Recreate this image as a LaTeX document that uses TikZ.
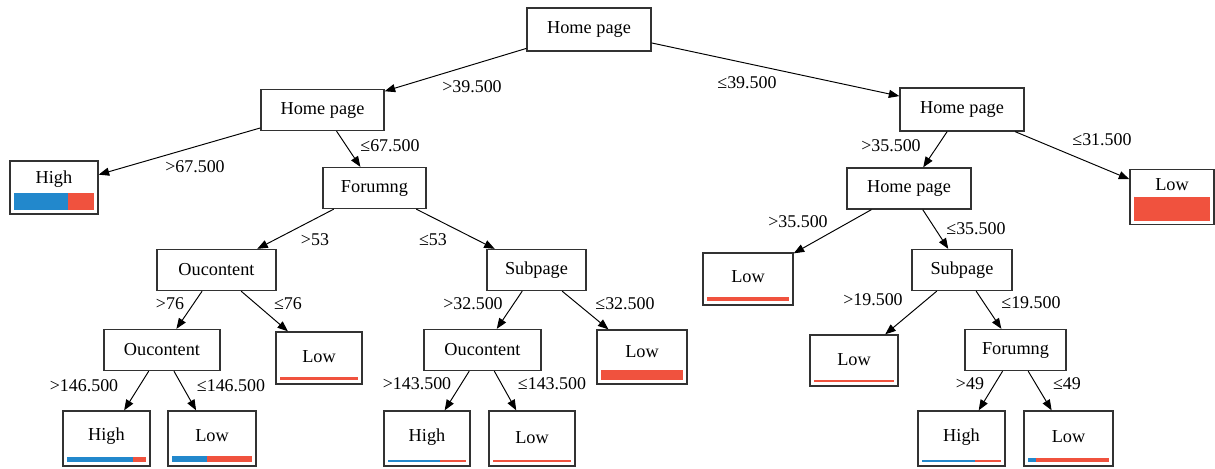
\documentclass[tikz,border=0pt]{standalone}
\usepackage{fontspec}
\setmainfont{Liberation Serif}
\usepackage{tikz}
\usetikzlibrary{arrows.meta}
\usetikzlibrary{calc,positioning}

\definecolor{barblue}{RGB}{34,136,204}
\definecolor{barred}{RGB}{240,82,62}
\definecolor{boxgray}{RGB}{50,50,50}

\begin{document}
\begin{tikzpicture}[x=0.02cm, y=-0.02cm,
  dnode/.style = {draw=boxgray, line width=0.75pt, rectangle, inner sep=0pt, minimum height=0.82cm, font=\fontsize{10.4}{12}\selectfont},
  leaf/.style = {draw=boxgray, line width=0.75pt, rectangle, inner sep=0pt, font=\fontsize{10.4}{12}\selectfont},
  lbl/.style = {inner sep=1pt, font=\fontsize{10.2}{12}\selectfont},
  edge/.style = {-{Triangle[length=6pt,width=4.6pt]}, line width=0.55pt, black}]
  \useasboundingbox (0,0) rectangle (1215,468);

  \node [dnode, minimum width=2.48cm, minimum height=0.86cm] (rootn) at (589,29.5) {Home page};
  \node [dnode, minimum width=2.46cm] (homel) at (322.5,110) {Home page};
  \node [dnode, minimum width=2.48cm, minimum height=0.86cm] (homer) at (962,109.5) {Home page};
  \node [dnode, minimum width=2.06cm] (foruml) at (374.5,188) {Forumng};
  \node [dnode, minimum width=2.48cm] (homerr) at (909,188.5) {Home page};
  \node [dnode, minimum width=2.38cm] (oucl) at (216.5,270) {Oucontent};
  \node [dnode, minimum width=1.98cm] (subl) at (536.5,270) {Subpage};
  \node [dnode, minimum width=2.00cm] (subr) at (962,270) {Subpage};
  \node [dnode, minimum width=2.32cm] (oucll) at (162,350) {Oucontent};
  \node [dnode, minimum width=2.34cm] (oucm) at (482.5,350) {Oucontent};
  \node [dnode, minimum width=2.02cm] (forumr) at (1015.5,350) {Forumng};

  % leaves: name/x/y/width/height/text/blue share/bar height
  \foreach \n/\x/\y/\w/\h/\t/\f/\b in {
      highl/54/187.5/88/53/High/0.68/17,
      lowrr/1172/197/84/55/Low/0/24,
      lowr/748/279/90/52/Low/0/4,
      lowa/319/358/86/52/Low/0/3,
      lowb/642/357/90/54/Low/0/10,
      lowc/854/360.5/88/51/Low/0/2,
      highd/106.5/438.5/87/55/High/0.84/5,
      lowd/212/438.5/88/55/Low/0.44/6,
      highe/427/438.5/86/55/High/0.67/2,
      lowe/532/438.5/86/55/Low/0/2,
      highf/961.5/438.5/87/55/High/0.67/2,
      lowf/1068.5/438.5/89/55/Low/0.09/4} {
    \node [leaf, minimum width=\w*0.02cm, minimum height=\h*0.02cm,
           label={[yshift=\b*0.01cm, font=\fontsize{10.4}{12}\selectfont]center:\t}] (\n) at (\x,\y) {};
    \coordinate (bl) at ($(\n.south west)+(5,-4.5)$);
    \coordinate (br) at ($(\n.south east)+(-5,-4.5)$);
    \fill [barblue] (bl) rectangle ($(bl)!\f!(br)+(0,-\b)$);
    \fill [barred] ($(bl)!\f!(br)$) rectangle ($(br)+(0,-\b)$);
  }

  \foreach \a/\b in {rootn/homel, rootn/homer, homel/highl, homel/foruml,
      homer/homerr, homer/lowrr, foruml/oucl, foruml/subl, homerr/lowr, homerr/subr,
      oucl/oucll, oucl/lowa, subl/oucm, subl/lowb, subr/lowc, subr/forumr,
      oucll/highd, oucll/lowd, oucm/highe, oucm/lowe, forumr/highf, forumr/lowf}
    \draw [edge] (\a) -- (\b);

  \foreach \n/\x/\y/\t in {
      ta/472/87/>39.500, tb/747/83/≤39.500,
      tc/195/167/>67.500, td/390/146/≤67.500,
      te/891/146/>35.500, tf/1102/140/≤31.500,
      tg/315/240/>53, th/433/240/≤53,
      ti/798/222/>35.500, tj/976/229/≤35.500,
      tk/170/304/>76, tl/288/304/≤76,
      tm/473/304/>32.500, tn/625/304/≤32.500,
      to/873/300/>19.500, tp/1031/303/≤19.500,
      tq/84/386/>146.500, tr/231/386/≤146.500,
      ts/417/384/>143.500, tt/552/384/≤143.500,
      tu/970/384/>49, tv/1067/384/≤49}
    \node [lbl] (\n) at (\x,\y) {\t};
\end{tikzpicture}
\end{document}
